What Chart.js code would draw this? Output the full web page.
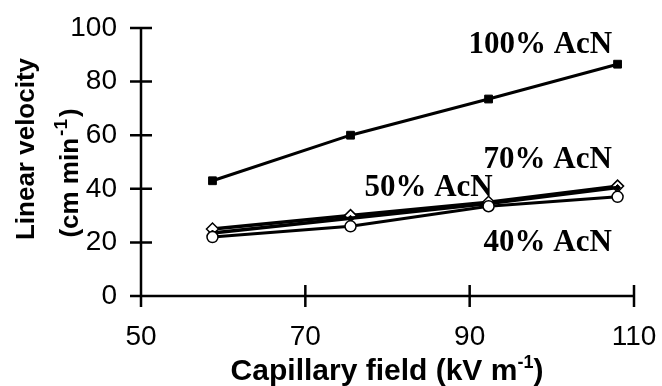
<!DOCTYPE html>
<html lang="en">
<head>
  <meta charset="UTF-8" />
  <title>Linear velocity vs capillary field</title>
  <script src="https://cdn.jsdelivr.net/npm/chart.js"></script>
  <style>
    html, body { margin: 0; padding: 0; background: #fff; }
    #wrap { width: 662px; height: 386px; }
  </style>
</head>
<body>
  <div id="wrap"><canvas id="velChart" width="662" height="386"></canvas></div>

<script>
  // capillary field (kV m-1) for each run
  const fields = [58.7, 75.5, 92.3, 108];
  const acn100 = [43, 60, 73.5, 86.5];
  const acn70 = [25, 30, 35, 41];
  const acn50 = [23.5, 29, 34.5, 40.5];
  const acn40 = [22, 26, 33.5, 37];

  const xTicks = [50, 70, 90, 110];
  const yTicks = [0, 20, 40, 60, 80, 100];

  // series labels placed in data units
  const labelText = ['100% AcN', '70% AcN', '50% AcN', '40% AcN'];
  const labelX = [98.6, 99.5, 85.0, 99.5];
  const labelY = [93.7, 50.7, 40.3, 19.8];

  function pts(ys) {
    return fields.map((f, i) => ({ x: f, y: ys[i] }));
  }

  function noPad(s) {
    s.paddingTop = 0; s.paddingBottom = 0;
    s.paddingLeft = 0; s.paddingRight = 0;
  }

  // axes with ticks crossing the line, plus titles and labels
  const drawAxes = {
    id: 'drawAxes',
    afterDraw(chart) {
      const ctx = chart.ctx;
      const xs = chart.scales.x, ys = chart.scales.y;
      const x0 = xs.getPixelForValue(50), y0 = ys.getPixelForValue(0);
      const tick = 11;
      ctx.save();
      ctx.strokeStyle = '#000';
      ctx.lineWidth = 2.5;
      ctx.beginPath();
      ctx.moveTo(x0 - tick, y0);
      ctx.lineTo(xs.getPixelForValue(110), y0);
      ctx.moveTo(x0, ys.getPixelForValue(100));
      ctx.lineTo(x0, y0 + tick);
      xTicks.forEach(v => {
        const px = xs.getPixelForValue(v);
        ctx.moveTo(px, y0 - tick);
        ctx.lineTo(px, y0 + tick);
      });
      yTicks.forEach(v => {
        const py = ys.getPixelForValue(v);
        ctx.moveTo(x0 - tick, py);
        ctx.lineTo(x0 + tick, py);
      });
      ctx.stroke();

      // series labels
      ctx.fillStyle = '#000';
      ctx.font = 'bold 31px "Liberation Serif", "Times New Roman", serif';
      ctx.textAlign = 'center';
      ctx.textBaseline = 'middle';
      labelText.forEach((t, i) => {
        ctx.fillText(t, xs.getPixelForValue(labelX[i]), ys.getPixelForValue(labelY[i]));
      });

      // x title with superscript
      const xf = 'bold 30px "Liberation Sans", Arial, sans-serif';
      const xsf = 'bold 18px "Liberation Sans", Arial, sans-serif';
      ctx.textAlign = 'left';
      ctx.textBaseline = 'alphabetic';
      const partA = 'Capillary field (kV m', sup = '-1', partB = ')';
      ctx.font = xf;
      const wA = ctx.measureText(partA).width, wB = ctx.measureText(partB).width;
      ctx.font = xsf;
      const wS = ctx.measureText(sup).width;
      let tx = 387 - (wA + wS + wB) / 2;
      const ty = 380;
      ctx.font = xf; ctx.fillText(partA, tx, ty); tx += wA;
      ctx.font = xsf; ctx.fillText(sup, tx, ty - 12); tx += wS;
      ctx.font = xf; ctx.fillText(partB, tx, ty);

      // y title, two rotated lines
      const tf = 'bold 26px "Liberation Sans", Arial, sans-serif';
      const sf = 'bold 19px "Liberation Sans", Arial, sans-serif';
      ctx.save();
      ctx.translate(34, 149);
      ctx.rotate(-Math.PI / 2);
      ctx.font = tf;
      ctx.textAlign = 'center';
      ctx.fillText('Linear velocity', 0, 0);
      ctx.restore();

      ctx.save();
      ctx.translate(78, 173);
      ctx.rotate(-Math.PI / 2);
      const pA = '(cm min', pB = ')';
      ctx.font = tf;
      const a = ctx.measureText(pA).width, b = ctx.measureText(pB).width;
      ctx.font = sf;
      const s = ctx.measureText(sup).width + 4;
      let ox = -(a + s + b) / 2;
      ctx.textAlign = 'left';
      ctx.font = tf; ctx.fillText(pA, ox, 0); ox += a + 2;
      ctx.font = sf; ctx.fillText(sup, ox, -11); ox += s - 2;
      ctx.font = tf; ctx.fillText(pB, ox, 0);
      ctx.restore();

      ctx.restore();
    }
  };

  const ctx = document.getElementById('velChart').getContext('2d');
  new Chart(ctx, {
    type: 'line',
    data: {
      datasets: [
        {
          label: '40% AcN', data: pts(acn40),
          borderColor: '#000', borderWidth: 3,
          pointStyle: 'circle', pointRadius: 5.5,
          pointBackgroundColor: '#fff', pointBorderColor: '#000', pointBorderWidth: 1.5
        },
        {
          label: '50% AcN', data: pts(acn50),
          borderColor: '#000', borderWidth: 3.5,
          pointStyle: 'rectRot', pointRadius: 3,
          pointBackgroundColor: '#000', pointBorderColor: '#000', pointBorderWidth: 1
        },
        {
          label: '70% AcN', data: pts(acn70),
          borderColor: '#000', borderWidth: 3.5,
          pointStyle: 'rectRot', pointRadius: 6,
          pointBackgroundColor: '#fff', pointBorderColor: '#000', pointBorderWidth: 1.5
        },
        {
          label: '100% AcN', data: pts(acn100),
          borderColor: '#000', borderWidth: 3,
          pointStyle: 'rect', pointRadius: 5.5,
          pointBackgroundColor: '#000', pointBorderColor: '#000', pointBorderWidth: 1
        }
      ]
    },
    options: {
      responsive: false,
      animation: false,
      layout: { padding: { top: 28, right: 28, left: 0, bottom: 0 } },
      plugins: { legend: { display: false }, tooltip: { enabled: false } },
      scales: {
        x: {
          type: 'linear', min: 50, max: 110,
          afterBuildTicks: s => { s.ticks = xTicks.map(v => ({ value: v })); },
          afterFit: s => { s.height = 90; noPad(s); },
          grid: { display: false, drawTicks: false },
          border: { display: false },
          ticks: {
            padding: 24, color: '#000',
            font: { family: '"Liberation Sans", Arial, sans-serif', size: 28 }
          }
        },
        y: {
          min: 0, max: 100,
          afterBuildTicks: s => { s.ticks = yTicks.map(v => ({ value: v })); },
          afterFit: s => { s.width = 141; noPad(s); },
          grid: { display: false, drawTicks: false },
          border: { display: false },
          ticks: {
            padding: 24, color: '#000',
            font: { family: '"Liberation Sans", Arial, sans-serif', size: 28 }
          }
        }
      }
    },
    plugins: [drawAxes]
  });
</script>
</body>
</html>
